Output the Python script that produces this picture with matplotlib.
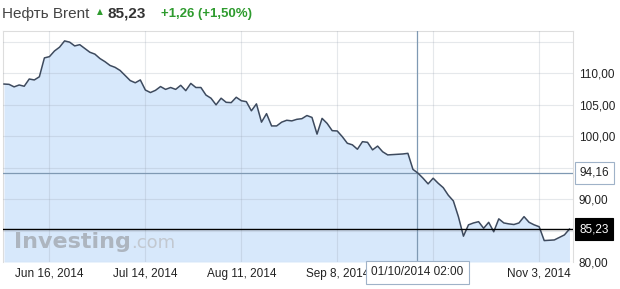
import matplotlib.pyplot as plt
import matplotlib.transforms as mtransforms
import numpy as np

plt.rcParams['font.family'] = ['Liberation Sans', 'DejaVu Sans']

# Brent close per trading session (Jun 2014 - Nov 2014)
prices = [108.25, 108.2, 107.8, 108.1, 107.9, 109.05, 108.9, 109.4, 112.4, 112.6,
          113.5, 114.1, 115.1, 114.9, 114.3, 114.5, 113.9, 113.3, 113.0, 112.3,
          111.8, 111.2, 110.9, 110.4, 109.6, 108.8, 108.45, 108.9, 107.3, 106.9,
          107.25, 107.85, 107.4, 107.7, 107.4, 108.05, 107.2, 108.35, 107.7, 107.7,
          106.5, 106.0, 104.95, 106.0, 105.35, 105.3, 106.15, 105.6, 105.45, 104.0,
          105.1, 102.2, 103.55, 101.6, 101.6, 102.2, 102.5, 102.4, 102.65, 102.75,
          103.25, 102.95, 100.3, 102.8, 102.0, 100.85, 100.8, 99.9, 98.85, 98.6,
          97.9, 99.1, 99.0, 97.8, 98.4, 97.5, 97.0, 97.05, 97.1, 97.15,
          97.25, 94.7, 94.1, 93.3, 92.4, 93.3, 92.5, 91.8, 90.6, 89.7,
          87.2, 84.1, 85.9, 86.2, 86.4, 85.35, 86.3, 84.8, 86.85, 86.2,
          86.05, 85.95, 86.2, 87.2, 86.3, 85.9, 85.6, 83.4, 83.45, 83.5,
          83.9, 84.3, 85.23]
sessions = np.arange(len(prices))

tick_pos = [9, 28, 47, 66, 85, 106]
tick_labels = ['Jun 16, 2014', 'Jul 14, 2014', 'Aug 11, 2014', 'Sep 8, 2014', '', 'Nov 3, 2014']
y_ticks = [80, 85, 90, 95, 100, 105, 110, 115]
y_labels = ['80,00', '', '90,00', '', '100,00', '105,00', '110,00', '']

last_price = 85.23
cross_price = 94.16
cross_pos = 81.85
cross_label = '01/10/2014 02:00'

W, H = 620, 289
fig = plt.figure(figsize=(W / 100, H / 100), dpi=100)
ax = fig.add_axes([3 / W, (H - 262) / H, 570 / W, 231 / H])

ax.fill_between(sessions, prices, 80, color='#d7e8fb', lw=0, zorder=1)
ax.plot(sessions, prices, color='#3d4a5e', lw=1.1, zorder=4)

ax.set_xlim(-0.2, 112.7)
ax.set_ylim(80, 116.67)
ax.set_xticks(tick_pos)
ax.set_xticklabels(tick_labels)
ax.set_yticks(y_ticks)
ax.set_yticklabels(y_labels)
ax.yaxis.tick_right()
ax.tick_params(axis='both', length=0, labelsize=8.5, colors='#222222')
ax.tick_params(axis='y', pad=4)
ax.tick_params(axis='x', pad=4)
ax.grid(True, color='#9aa4b2', alpha=0.25, lw=0.8, zorder=2)
ax.set_axisbelow(False)
for s in ['top', 'left', 'right']:
    ax.spines[s].set_color('#dddddd')
    ax.spines[s].set_linewidth(0.8)
ax.spines['bottom'].set_visible(False)

# crosshair and price lines
ax.axvline(cross_pos, color='#7f99b3', lw=0.9, zorder=3)
ax.axhline(cross_price, color='#7f99b3', lw=0.9, zorder=3)
ax.axhline(last_price, color='black', lw=1.0, zorder=5)

trans = mtransforms.blended_transform_factory(ax.transAxes, ax.transData)
ax.text(1.011, cross_price, '94,16', transform=trans, fontsize=8.5, color='#222222',
        va='center', ha='left', clip_on=False,
        bbox=dict(boxstyle='square,pad=0.4', fc='white', ec='#9fb2c8', lw=0.8))
ax.text(1.011, last_price, '85,23', transform=trans, fontsize=8.5, color='white',
        va='center', ha='left', clip_on=False,
        bbox=dict(boxstyle='square,pad=0.4', fc='black', ec='black', lw=0.8))
xtrans = mtransforms.blended_transform_factory(ax.transData, ax.transAxes)
ax.text(cross_pos, -0.045, cross_label, transform=xtrans, fontsize=8.5, color='#222222',
        va='center', ha='center', clip_on=False, zorder=6,
        bbox=dict(boxstyle='square,pad=0.45', fc='white', ec='#9fb2c8', lw=0.8))

# watermark
wm = ax.text(0.019, 0.088, 'Investing', transform=ax.transAxes, fontsize=16,
             fontweight='bold', family=['DejaVu Sans'], color='#adb5bf',
             va='center', ha='left', zorder=3)
ax.annotate('.com', xy=(1, 0), xycoords=wm, xytext=(0.5, 0), textcoords='offset points',
            fontsize=13, family=['DejaVu Sans'], color='#c2c8d0', va='bottom', ha='left',
            zorder=3)

# header
fig.text(2 / W, 1 - 14 / H, 'Нефть Brent', fontsize=11, color='#444444', va='center', ha='left')
fig.text(97 / W, 1 - 12 / H, '▲', fontsize=5.5, color='#2e9b2e', va='center', ha='left',
         family=['DejaVu Sans'])
fig.text(108 / W, 1 - 14 / H, '85,23', fontsize=11, fontweight='bold', color='#333333',
         va='center', ha='left')
fig.text(161 / W, 1 - 14 / H, '+1,26 (+1,50%)', fontsize=9.5, fontweight='bold',
         color='#2e9b2e', va='center', ha='left')

fig.savefig('out.png', dpi=100)
